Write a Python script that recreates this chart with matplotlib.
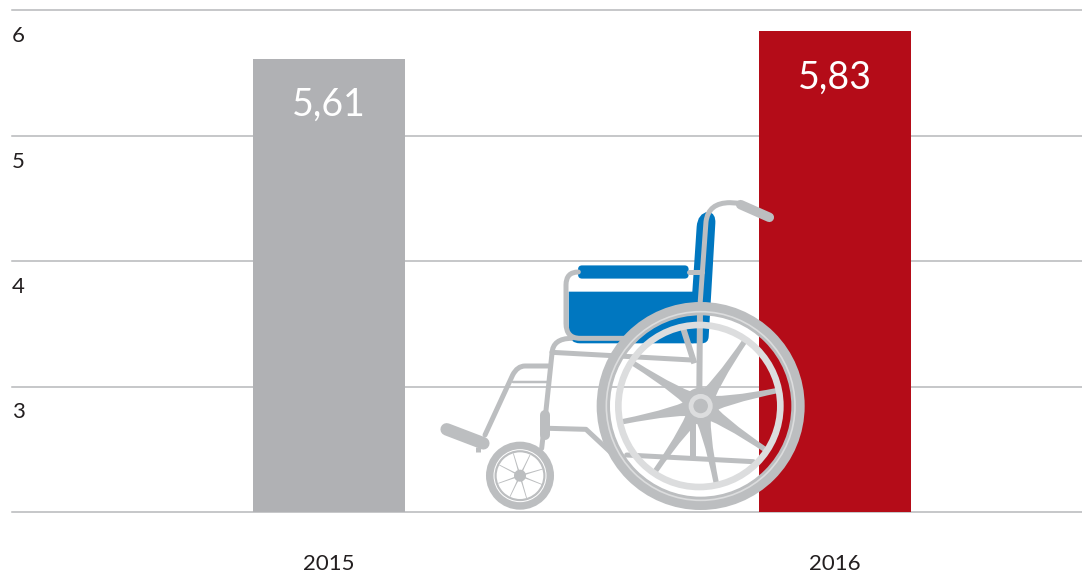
import matplotlib
matplotlib.use('Agg')
import matplotlib.pyplot as plt
from matplotlib.patches import Circle, PathPatch, FancyBboxPatch
from matplotlib.path import Path

years = ['2015', '2016']
values = [5.61, 5.83]
value_labels = ['5,61', '5,83']
bar_colors = ['#b0b1b4', '#b40c18']
y_ticks = [2, 3, 4, 5, 6]

GRID = '#b7b8ba'
CHAIR = '#bcbec0'
RIM = '#dcddde'
BLUE = '#0077c0'
FONT = 'Lato'

W, H = 1082, 573
fig = plt.figure(figsize=(W / 100, H / 100), dpi=100)

# main chart, lines run from x=12 to the right edge, y=512 is the baseline
ax = fig.add_axes([12 / W, (H - 512) / H, (W - 12) / W, 502 / H])
ax.set_xlim((12 - 329) / 506, (W - 329) / 506)
ax.set_ylim(2, 6)
ax.axis('off')

for t in y_ticks:
    ax.axhline(t, color=GRID, lw=1.1, zorder=1, clip_on=False)
    if t > 2:
        ax.annotate(str(t), xy=(0, t), xycoords=('axes fraction', 'data'),
                    xytext=(0, -26), textcoords='offset pixels', fontsize=16,
                    family=FONT, color='#231f20', va='center', ha='left')

ax.bar(range(len(years)), values, width=152 / 506, bottom=0, color=bar_colors, zorder=2)

for i, year in enumerate(years):
    ax.annotate(year, xy=(i, 2), xytext=(0, -52), textcoords='offset pixels', fontsize=16,
                family=FONT, color='#231f20', ha='center', va='center', annotation_clip=False)
    ax.annotate(value_labels[i], xy=(i, values[i]), xytext=(0, -46), textcoords='offset pixels',
                fontsize=27, family=FONT, color='white', ha='center', va='center',
                zorder=3)

# wheelchair illustration, coordinates are in picture pixels
ov = fig.add_axes([0, 0, 1, 1])
ov.set_xlim(0, W)
ov.set_ylim(H, 0)
ov.axis('off')
ov.patch.set_alpha(0)


def z(x, y):
    # picture position from the position in the 3x crop I measured on
    return (430 + x / 3, 190 + y / 3)


def tube(points, lw=5, color=CHAIR, zorder=5, cap='round'):
    # points is a start followed by (x, y) line ends or ((cx, cy), (x, y)) bends
    verts = [z(*points[0])]
    codes = [Path.MOVETO]
    for p in points[1:]:
        if isinstance(p[0], tuple):
            verts += [z(*p[0]), z(*p[1])]
            codes += [Path.CURVE3, Path.CURVE3]
        else:
            verts.append(z(*p))
            codes.append(Path.LINETO)
    ov.add_patch(PathPatch(Path(verts, codes), fc='none', ec=color, lw=lw * 0.72,
                           capstyle=cap, joinstyle='round', zorder=zorder))


def ring(center, r, width, color=CHAIR, zorder=6):
    ov.add_patch(Circle(z(*center), r / 3, fc='none', ec=color, lw=width / 3 * 0.72, zorder=zorder))


def spoke(hub, tip, base, end=8, zorder=6):
    # wide at the hub and pinched in quickly, like the cast wheel
    dx, dy = tip[0] - hub[0], tip[1] - hub[1]
    n = (dx ** 2 + dy ** 2) ** 0.5
    nx, ny = -dy / n, dx / n
    mx, my = hub[0] + dx * 0.3, hub[1] + dy * 0.3
    verts = [(hub[0] + nx * base, hub[1] + ny * base), (mx + nx * end, my + ny * end),
             (tip[0] + nx * end, tip[1] + ny * end), (tip[0] - nx * end, tip[1] - ny * end),
             (mx - nx * end, my - ny * end), (hub[0] - nx * base, hub[1] - ny * base),
             (hub[0] + nx * base, hub[1] + ny * base)]
    codes = [Path.MOVETO, Path.CURVE3, Path.CURVE3, Path.LINETO, Path.CURVE3, Path.CURVE3, Path.CLOSEPOLY]
    ov.add_patch(PathPatch(Path([z(*v) for v in verts], codes), fc=CHAIR, ec='none', zorder=zorder))


# blue cushions
back = Path([z(787, 305), z(800, 110), z(803, 70), z(835, 65), z(858, 70), z(856, 100),
             z(836, 440), z(835, 460), z(815, 460), z(787, 460), z(787, 305)],
            [Path.MOVETO, Path.LINETO, Path.CURVE3, Path.CURVE3, Path.CURVE3, Path.CURVE3,
             Path.LINETO, Path.CURVE3, Path.CURVE3, Path.LINETO, Path.CLOSEPOLY])
ov.add_patch(PathPatch(back, fc=BLUE, ec='none', zorder=3))
seat = Path([z(416, 305), z(790, 305), z(790, 460), z(450, 460), z(416, 460), z(416, 420), z(416, 305)],
            [Path.MOVETO, Path.LINETO, Path.LINETO, Path.LINETO, Path.CURVE3, Path.CURVE3, Path.CLOSEPOLY])
ov.add_patch(PathPatch(seat, fc=BLUE, ec='none', zorder=3))
ov.add_patch(FancyBboxPatch(z(452, 234), (316) / 3, 24 / 3, boxstyle='round,pad=2.6,rounding_size=4',
                            fc=BLUE, ec='none', zorder=4))

# frame
tube([(810, 345), (828, 95), ((835, 38), (900, 38)), (930, 40)], lw=5)
tube([(932, 44), (1018, 82)], lw=9.5)
tube([(778, 246), (815, 246)], lw=5)
tube([(445, 246), ((408, 246), (408, 285)), (408, 400), ((408, 445), (450, 445)), (600, 445)], lw=5)
tube([(425, 445), ((368, 445), (366, 490)), (346, 680), (335, 775)], lw=5)
tube([(366, 487), (785, 510)], lw=5)
tube([(355, 528), (285, 528), ((262, 528), (248, 555)), (165, 735)], lw=5)
tube([(250, 575), (355, 575)], lw=2.5)
tube([(345, 675), (345, 735)], lw=10, cap='round')
tube([(50, 718), (160, 760)], lw=12.5)
tube([(143, 770), (143, 786)], lw=5, cap='butt')
tube([(358, 715), (468, 718), (540, 785)], lw=5)
tube([(590, 795), (970, 815)], lw=5)
tube([(790, 700), (790, 800)], lw=6, cap='butt')
tube([(758, 410), (793, 520)], lw=6, cap='butt')
tube([(810, 360), (808, 600)], lw=6, cap='butt')

# big wheel
hub = (812, 648)
for tip in [(950, 445), (1050, 600), (1015, 785), (860, 885), (675, 845), (578, 695), (610, 520)]:
    spoke(hub, tip, 32)
ov.add_patch(Circle(z(*hub), 55 / 3, fc=CHAIR, ec='none', zorder=6))
ring(hub, 292, 40, zorder=7)
ring(hub, 283, 5, color=RIM, zorder=8)
ring((808, 648), 243, 20, color=RIM, zorder=8)
ov.add_patch(Circle(z(*hub), 29 / 3, fc=CHAIR, ec=RIM, lw=3.4, zorder=9))

# small wheel
small = (270, 857)
for tip in [(250, 790), (300, 795), (345, 835), (340, 885), (290, 925), (240, 920), (205, 880), (208, 825)]:
    spoke(small, tip, 3, 1.2)
ov.add_patch(Circle(z(*small), 18 / 3, fc=CHAIR, ec='none', zorder=7))
ring(small, 86, 32, zorder=7)
ring(small, 78, 3, color='white', zorder=8)

fig.savefig('out.png', dpi=100)
